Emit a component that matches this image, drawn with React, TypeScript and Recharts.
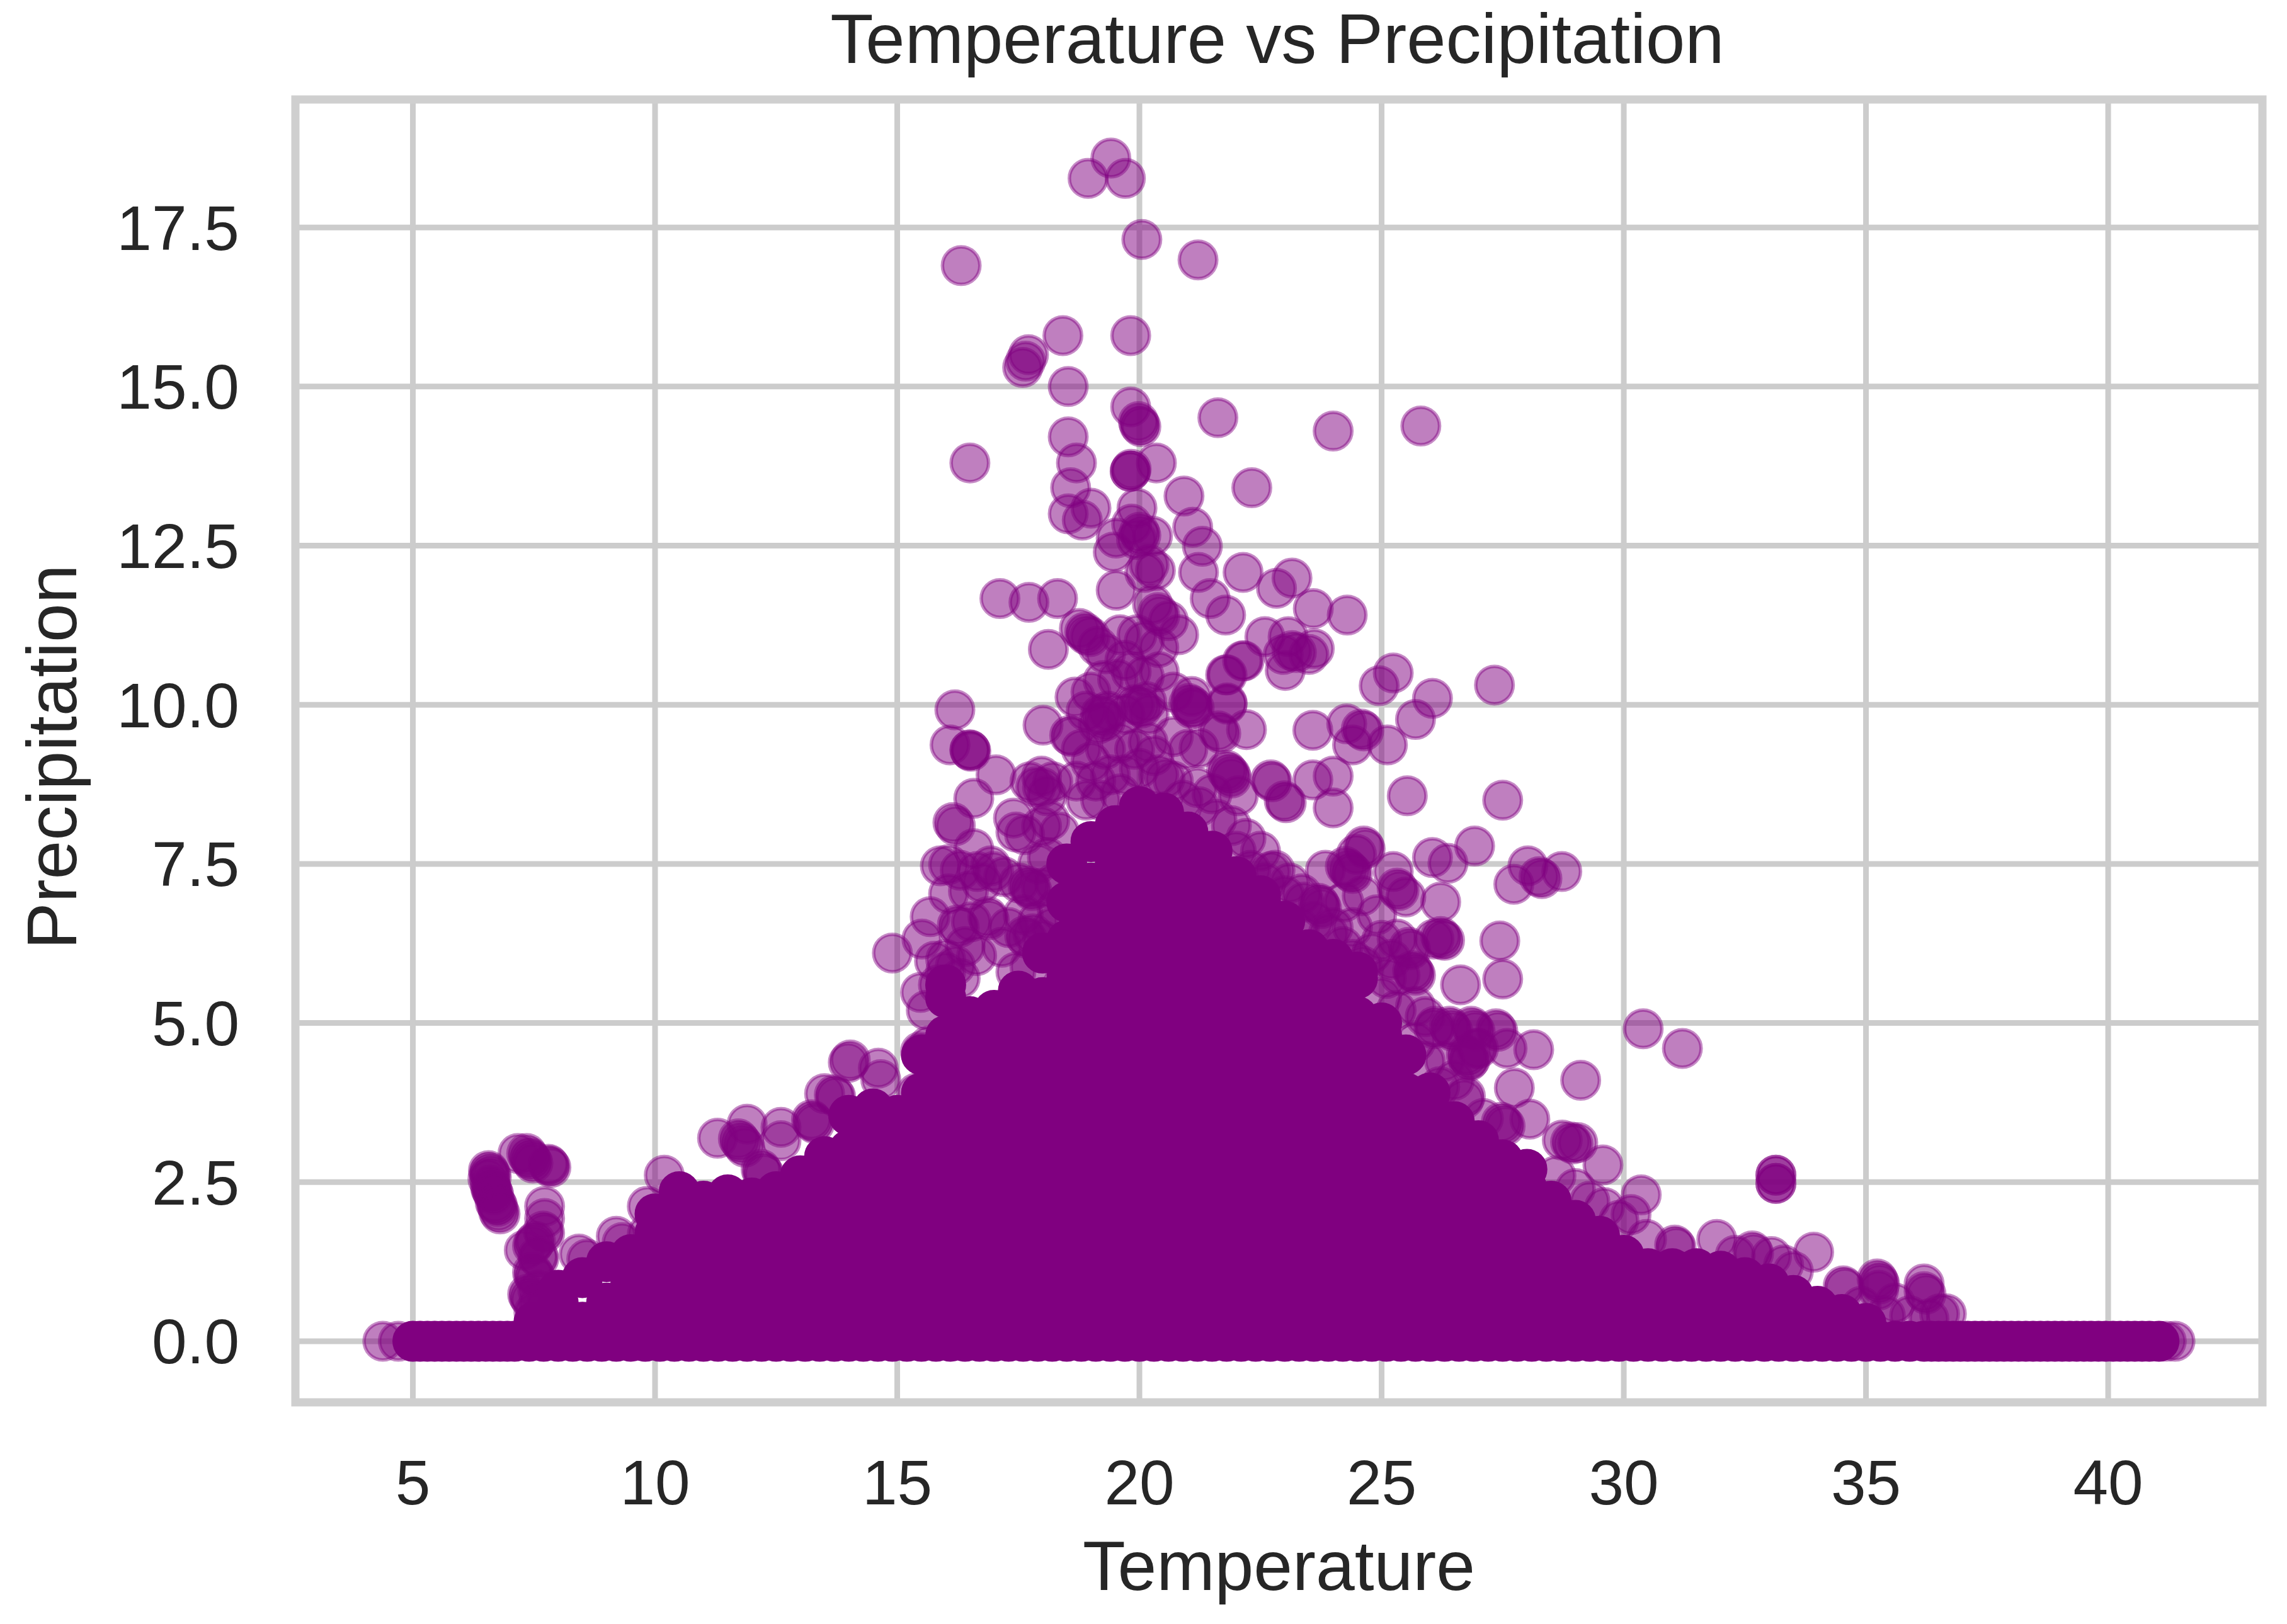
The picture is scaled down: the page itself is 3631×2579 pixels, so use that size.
import { CartesianGrid, ReferenceArea, Scatter, ScatterChart, XAxis, YAxis, ZAxis } from "recharts";

const xTicks = [5, 10, 15, 20, 25, 30, 35, 40];
const yTicks = [0, 2.5, 5, 7.5, 10, 12.5, 15, 17.5];
const xDomain = [2.575, 43.185];
const yDomain = [-0.96, 19.51];

// [temperature, precipitation], repeats are the darker overlaps
const peakPoints = [
  [19.41, 18.59], [18.94, 18.27], [19.71, 18.27], [20.05, 17.31], [21.21, 16.99], [16.32, 16.9],
  [18.42, 15.8], [19.82, 15.8], [17.71, 15.5], [17.59, 15.3], [17.65, 15.4], [18.53, 15.0],
  [19.82, 14.68], [19.98, 14.45], [20.03, 14.37], [20.0, 14.4], [21.62, 14.51], [24.0, 14.3], [25.81, 14.38],
  [18.53, 14.21], [16.5, 13.8], [18.7, 13.8], [19.81, 13.67], [19.81, 13.67], [19.83, 13.7], [20.35, 13.8],
  [18.58, 13.41], [20.92, 13.28], [22.32, 13.41], [18.53, 13.0], [19.0, 13.09], [18.82, 12.9], [19.95, 13.09],
  [21.1, 12.79], [21.3, 12.49], [20.0, 12.71], [20.03, 12.66], [19.52, 12.62], [20.27, 12.65], [19.84, 12.84],
  [19.94, 12.6], [19.46, 12.4], [20.33, 12.11], [20.11, 12.08], [20.2, 12.2], [21.22, 12.08], [22.14, 12.08],
  [23.15, 11.99], [22.83, 11.83], [23.59, 11.51], [24.29, 11.41], [21.46, 11.67], [21.78, 11.41], [19.52, 11.8],
  [17.12, 11.67], [17.72, 11.61], [18.31, 11.67], [20.38, 11.45], [20.42, 11.4], [20.6, 11.32], [20.27, 11.58],
];

const shoulderPoints = [
  [20.81, 11.1], [19.95, 11.1], [18.12, 10.87], [18.87, 11.14], [18.98, 11.07], [18.76, 11.2], [18.9, 11.1],
  [19.14, 10.92], [22.59, 11.07], [23.07, 11.07], [23.01, 10.54], [22.97, 10.79], [23.61, 10.88], [23.5, 10.79],
  [23.24, 10.82], [23.15, 10.85], [22.16, 10.69], [21.78, 10.47], [25.24, 10.5], [24.95, 10.3], [27.33, 10.31],
  [26.05, 10.1], [25.7, 9.77], [21.81, 10.03], [21.08, 10.13], [21.08, 9.94], [16.19, 9.92], [16.09, 9.37],
  [16.5, 9.29], [16.5, 9.29], [16.52, 9.27], [17.04, 8.9], [16.58, 8.53], [18.01, 9.68], [18.56, 9.52], [18.6, 9.5],
  [18.67, 10.12], [19.25, 10.38], [19.83, 10.52], [20.41, 10.52], [19.55, 10.4], [20.1, 10.45], [19.0, 10.2],
  [19.25, 9.81], [19.3, 9.75], [19.2, 9.85], [19.35, 9.9], [19.15, 9.7], [20.0, 9.99], [20.05, 9.95], [19.9, 10.0],
  [20.15, 10.05], [20.2, 9.85], [19.7, 9.85], [20.18, 9.41], [20.7, 9.5], [21.08, 9.99], [21.13, 9.95], [21.02, 10.02],
  [21.81, 10.01], [21.81, 10.47], [22.13, 10.69], [22.21, 9.61], [21.63, 9.59], [21.68, 9.55], [21.23, 9.32],
  [21.0, 9.3], [21.84, 8.93], [21.88, 8.9], [21.8, 8.97], [21.9, 8.85], [22.74, 8.79], [22.04, 8.57], [22.99, 8.49],
  [20.53, 8.84], [21.23, 8.4], [23.58, 9.6], [24.28, 9.7], [24.63, 9.59], [24.4, 9.37], [24.58, 9.62], [25.12, 9.37],
  [22.71, 8.82], [23.03, 8.46], [23.58, 8.82], [24.0, 8.88], [24.0, 8.38], [25.53, 8.57], [27.5, 8.5],
];

// the crowded patch under the peak, darker than the loose points around it
const underPeakPoints = [
  [18.8, 9.3], [19.0, 9.1], [19.3, 9.3], [19.6, 9.4], [19.9, 9.3], [20.3, 9.2], [19.1, 8.8], [19.4, 8.9], [19.7, 8.9],
  [20.0, 9.0], [20.4, 8.9], [20.7, 8.8], [18.7, 8.8], [18.9, 8.5], [19.2, 8.5], [19.6, 8.6], [20.9, 8.5], [21.2, 8.7],
  [21.5, 8.6], [21.6, 8.2], [21.9, 8.1], [22.2, 7.9], [22.5, 7.7], [22.8, 7.4], [23.1, 7.2], [22.3, 7.4], [22.0, 7.7],
  [23.4, 6.9], [23.6, 6.6], [23.3, 6.5], [24.0, 6.5], [24.2, 6.2], [24.4, 6.0], [19.6, 11.1], [20.1, 11.0], [20.4, 10.9],
  [19.3, 10.8], [19.7, 10.7], [20.7, 10.2], [18.9, 9.9], [16.0, 6.0], [16.2, 5.9], [16.0, 5.8], [16.3, 5.7], [15.85, 5.6],
];

const leftMidPoints = [
  [16.15, 8.15], [16.2, 8.1], [17.74, 8.79], [18.21, 8.79], [17.98, 8.88], [17.86, 8.71], [18.09, 8.57], [18.0, 8.7],
  [17.45, 8.0], [17.63, 7.96], [17.98, 8.09], [17.4, 8.22], [18.15, 8.18], [16.58, 7.74], [15.89, 7.47], [16.06, 7.49],
  [16.93, 7.47], [16.99, 7.38], [16.65, 7.38], [16.06, 7.03], [16.47, 7.07], [17.74, 7.12], [17.78, 7.08], [17.7, 7.15],
  [17.51, 7.2], [17.98, 7.12], [16.3, 7.4], [16.75, 7.2], [17.2, 7.3], [15.68, 6.67], [16.24, 6.54], [16.28, 6.5],
  [16.87, 6.67], [16.9, 6.62], [16.53, 6.59], [17.63, 6.37], [17.68, 6.33], [17.8, 6.4], [15.51, 6.32], [14.9, 6.1],
  [15.77, 5.97], [16.64, 6.06], [17.16, 6.19], [17.74, 5.88], [17.3, 6.5], [17.9, 6.6], [16.4, 6.2], [17.45, 5.8],
  [15.48, 5.48], [15.6, 5.2], [15.48, 4.55], [15.52, 4.5], [15.65, 4.64], [14.03, 4.42], [14.61, 4.29], [15.4, 3.9],
  [18.1, 7.6], [18.25, 7.2], [18.35, 8.0], [17.9, 7.5], [18.3, 6.8], [17.6, 6.7], [18.0, 6.3], [18.2, 6.5],
];

const rightMidPoints = [
  [24.63, 7.78], [24.66, 7.74], [24.48, 7.65], [23.84, 7.4], [24.31, 7.42], [24.36, 7.38], [24.25, 7.46], [24.4, 7.35],
  [25.24, 7.38], [25.32, 7.12], [25.36, 7.08], [25.5, 6.98], [26.05, 7.6], [26.37, 7.51], [26.92, 7.78], [28.02, 7.47],
  [27.73, 7.18], [28.31, 7.27], [28.72, 7.38], [28.25, 7.3], [26.22, 6.9], [23.73, 6.85], [23.76, 6.8], [23.7, 6.88],
  [23.35, 7.03], [24.22, 6.9], [22.71, 7.38], [22.6, 7.2], [23.0, 7.0], [24.6, 7.0], [24.9, 6.7], [24.4, 6.5], [23.9, 6.4],
  [27.44, 6.29], [27.5, 5.69], [26.63, 5.6], [26.25, 6.32], [26.3, 6.3], [26.22, 6.36], [26.08, 6.32], [25.32, 6.32],
  [25.56, 6.19], [25.6, 6.15], [25.2, 6.0], [25.67, 5.79], [25.7, 5.75], [25.64, 5.82], [25.38, 5.75], [25.7, 5.26],
  [25.1, 5.7], [25.0, 6.3], [24.8, 6.1], [24.6, 5.9], [25.3, 5.2], [25.0, 5.4], [25.9, 5.1], [26.1, 4.95],
  [27.36, 4.91], [27.4, 4.87], [26.89, 4.91], [26.93, 4.87], [26.85, 4.95], [26.43, 4.91], [26.47, 4.87], [26.4, 4.95],
  [26.08, 4.91], [28.14, 4.58], [27.59, 4.6], [27.0, 4.6], [26.79, 4.47], [26.83, 4.43], [26.75, 4.5], [26.8, 4.4],
  [26.96, 4.6], [30.4, 4.91], [31.21, 4.6], [25.7, 4.7], [26.3, 4.4], [25.9, 4.4], [26.5, 4.1], [26.2, 4.0], [26.7, 3.8],
  [29.11, 4.1], [27.74, 3.98], [28.06, 3.49], [27.51, 3.41], [27.55, 3.38], [27.47, 3.44], [26.73, 3.85], [27.1, 3.5],
  [28.73, 3.16], [29.05, 3.12], [28.9, 3.13], [28.95, 3.1], [29.57, 2.77], [30.36, 2.3], [30.15, 1.99], [29.0, 2.4],
  [29.3, 2.2], [29.6, 2.1], [29.9, 1.9], [28.6, 2.6], [33.14, 2.61], [33.14, 2.61], [33.14, 2.48], [33.14, 2.48],
];

const tailPoints = [
  [30.47, 1.6], [31.05, 1.51], [31.08, 1.48], [31.92, 1.6], [32.65, 1.42], [32.68, 1.38], [33.05, 1.33], [32.3, 1.35],
  [33.92, 1.4], [33.3, 1.2], [33.5, 1.1], [34.53, 0.87], [34.56, 0.84], [35.23, 0.98], [35.26, 0.94], [35.28, 0.9],
  [35.26, 0.8], [36.2, 0.9], [36.2, 0.78], [36.24, 0.74], [36.52, 0.43], [36.66, 0.43], [35.6, 0.6], [35.9, 0.4],
  [36.3, 0.35], [34.9, 0.55], [35.4, 0.4], [4.38, 0], [4.7, 0], [41.2, 0], [41.38, 0],
];

const leftTailPoints = [
  [13.99, 4.38], [14.66, 4.11], [13.7, 3.87], [13.73, 3.84], [13.5, 3.89], [13.26, 3.45], [13.29, 3.42], [13.23, 3.48],
  [12.6, 3.36], [12.6, 3.15], [11.9, 3.41], [11.29, 3.19], [11.76, 3.14], [11.8, 3.1], [11.72, 3.18], [11.85, 3.05],
  [12.22, 2.66], [12.25, 2.63], [12.19, 2.7], [10.19, 2.61], [9.84, 2.12], [9.84, 1.68], [9.32, 1.55], [8.59, 1.29],
  [7.72, 2.12], [7.72, 1.93], [7.69, 1.73], [7.72, 1.7], [7.5, 1.54], [7.47, 1.5], [7.53, 1.57], [7.3, 1.43],
  [7.58, 1.33], [7.6, 1.3], [8.43, 1.37], [9.2, 1.65], [7.5, 1.04], [7.53, 1.0], [7.47, 1.08], [7.4, 0.7], [7.43, 0.66],
  [7.37, 0.74], [7.58, 0.8], [7.6, 0.6], [7.5, 0.45], [7.55, 0.3], [7.75, 0.55],
  [6.58, 2.65], [6.6, 2.62], [6.56, 2.68], [6.62, 2.58], [6.55, 2.55], [6.63, 2.37], [6.65, 2.34], [6.61, 2.4], [6.67, 2.3],
  [6.6, 2.45], [6.73, 2.15], [6.75, 2.12], [6.7, 2.18], [6.77, 2.04], [6.8, 2.0],
  [7.17, 2.95], [7.42, 2.87], [7.45, 2.84], [7.39, 2.9], [7.35, 2.95], [7.48, 2.8], [7.82, 2.76], [7.85, 2.73], [7.8, 2.78],
];

// y = 0 strip, saturated in the picture
const zeroTemps = [
  5.0, 5.15, 5.3, 5.45, 5.6, 5.75, 5.9, 6.05, 6.2, 6.35, 6.5, 6.65, 6.8, 6.95, 7.1, 7.4, 7.7, 8.0, 8.3, 8.6, 8.9, 9.2, 9.5, 9.8,
  10.1, 10.4, 10.7, 11.0, 11.3, 11.6, 11.9, 12.2, 12.5, 12.8, 13.1, 13.4, 13.7, 14.0, 14.3, 14.6, 14.9, 15.2, 15.5, 15.8, 16.1,
  16.4, 16.7, 17.0, 17.3, 17.6, 17.9, 18.2, 18.5, 18.8, 19.1, 19.4, 19.7, 20.0, 20.3, 20.6, 20.9, 21.2, 21.5, 21.8, 22.1, 22.4,
  22.7, 23.0, 23.3, 23.6, 23.9, 24.2, 24.5, 24.8, 25.1, 25.4, 25.7, 26.0, 26.3, 26.6, 26.9, 27.2, 27.5, 27.8, 28.1, 28.4, 28.7,
  29.0, 29.3, 29.6, 29.9, 30.2, 30.5, 30.8, 31.1, 31.4, 31.7, 32.0, 32.3, 32.6, 32.9, 33.2, 33.5, 33.8, 34.1, 34.4, 34.7, 35.0,
  35.3, 35.6, 35.9, 36.2, 36.35, 36.5, 36.65, 36.8, 36.95, 37.1, 37.25, 37.4, 37.55, 37.7, 37.85, 38.0, 38.15, 38.3, 38.45, 38.6,
  38.75, 38.9, 39.05, 39.2, 39.35, 39.5, 39.65, 39.8, 39.95, 40.1, 40.25, 40.4, 40.55, 40.7, 40.85, 41.05,
];

// The middle of the cloud is solid colour, single points cannot be told apart there.
// These columns are estimates that follow its upper outline.
const coreColumns: [number, number[]][] = [
  [7.5, [0.3]],
  [8, [0.6, 0.8]],
  [8.5, [0.3, 1]],
  [9, [0.6, 1.25]],
  [9.5, [0.3, 0.9, 1.36]],
  [10, [0.6, 1.2, 1.7, 2]],
  [10.5, [0.3, 0.9, 1.5, 2.1, 2.35]],
  [11, [0.6, 1.2, 1.8, 2.2]],
  [11.5, [0.3, 0.9, 1.5, 2.1, 2.3]],
  [12, [0.6, 1.2, 1.8, 2.25]],
  [12.5, [0.3, 0.9, 1.5, 2.1, 2.35]],
  [13, [0.6, 1.2, 1.8, 2.4, 2.6]],
  [13.5, [0.3, 0.9, 1.5, 2.1, 2.7, 2.9]],
  [14, [0.6, 1.2, 1.8, 2.4, 3, 3.55]],
  [14.5, [0.3, 0.9, 1.5, 2.1, 2.7, 3.3, 3.65]],
  [15, [0.6, 1.2, 1.8, 2.4, 3, 3.55]],
  [15.5, [0.3, 0.9, 1.5, 2.1, 2.7, 3.3, 3.9, 4.5]],
  [16, [0.6, 1.2, 1.8, 2.4, 3, 3.6, 4.2, 4.8, 5.4, 5.6]],
  [16.5, [0.3, 0.9, 1.5, 2.1, 2.7, 3.3, 3.9, 4.5, 5.1]],
  [17, [0.6, 1.2, 1.8, 2.4, 3, 3.6, 4.2, 4.8, 5.2]],
  [17.5, [0.3, 0.9, 1.5, 2.1, 2.7, 3.3, 3.9, 4.5, 5.1, 5.5]],
  [18, [0.6, 1.2, 1.8, 2.4, 3, 3.6, 4.2, 4.8, 5.4, 6.1]],
  [18.5, [0.3, 0.9, 1.5, 2.1, 2.7, 3.3, 3.9, 4.5, 5.1, 5.7, 6.3, 6.9, 7.5]],
  [19, [0.6, 1.2, 1.8, 2.4, 3, 3.6, 4.2, 4.8, 5.4, 6, 6.6, 7.2, 7.85]],
  [19.5, [0.3, 0.9, 1.5, 2.1, 2.7, 3.3, 3.9, 4.5, 5.1, 5.7, 6.3, 6.9, 7.5, 8.1]],
  [20, [0.6, 1.2, 1.8, 2.4, 3, 3.6, 4.2, 4.8, 5.4, 6, 6.6, 7.2, 7.8, 8.4]],
  [20.5, [0.3, 0.9, 1.5, 2.1, 2.7, 3.3, 3.9, 4.5, 5.1, 5.7, 6.3, 6.9, 7.5, 8.1, 8.3]],
  [21, [0.6, 1.2, 1.8, 2.4, 3, 3.6, 4.2, 4.8, 5.4, 6, 6.6, 7.2, 7.8, 8]],
  [21.5, [0.3, 0.9, 1.5, 2.1, 2.7, 3.3, 3.9, 4.5, 5.1, 5.7, 6.3, 6.9, 7.5, 7.7]],
  [22, [0.6, 1.2, 1.8, 2.4, 3, 3.6, 4.2, 4.8, 5.4, 6, 6.6, 7.2, 7.3]],
  [22.5, [0.3, 0.9, 1.5, 2.1, 2.7, 3.3, 3.9, 4.5, 5.1, 5.7, 6.3, 6.9, 7]],
  [23, [0.6, 1.2, 1.8, 2.4, 3, 3.6, 4.2, 4.8, 5.4, 6, 6.6]],
  [23.5, [0.3, 0.9, 1.5, 2.1, 2.7, 3.3, 3.9, 4.5, 5.1, 5.7, 6.15]],
  [24, [0.6, 1.2, 1.8, 2.4, 3, 3.6, 4.2, 4.8, 5.4, 6]],
  [24.5, [0.3, 0.9, 1.5, 2.1, 2.7, 3.3, 3.9, 4.5, 5.1, 5.7, 5.8]],
  [25, [0.6, 1.2, 1.8, 2.4, 3, 3.6, 4.2, 4.8, 5]],
  [25.5, [0.3, 0.9, 1.5, 2.1, 2.7, 3.3, 3.9, 4.5]],
  [26, [0.6, 1.2, 1.8, 2.4, 3, 3.6, 3.9]],
  [26.5, [0.3, 0.9, 1.5, 2.1, 2.7, 3.3, 3.45]],
  [27, [0.6, 1.2, 1.8, 2.4, 3, 3.15]],
  [27.5, [0.3, 0.9, 1.5, 2.1, 2.7, 2.85]],
  [28, [0.6, 1.2, 1.8, 2.4, 2.7]],
  [28.5, [0.3, 0.9, 1.5, 2.1, 2.2]],
  [29, [0.6, 1.2, 1.8, 1.9]],
  [29.5, [0.3, 0.9, 1.5, 1.65]],
  [30, [0.6, 1.2, 1.35]],
  [30.5, [0.3, 0.9, 1.14]],
  [31, [0.6, 1.14]],
  [31.5, [0.3, 0.9, 1.14]],
  [32, [0.6, 1.1]],
  [32.5, [0.3, 0.9, 1]],
  [33, [0.6, 0.9]],
  [33.5, [0.3, 0.72]],
  [34, [0.55]],
  [34.5, [0.42]],
  [35, [0.28]],
];

const toRow = ([temp, precip]: number[]) => ({ temp, precip });

const looseData = [
  ...peakPoints,
  ...shoulderPoints,
  ...underPeakPoints,
  ...leftMidPoints,
  ...rightMidPoints,
  ...tailPoints,
  ...leftTailPoints,
].map(toRow);
const coreData = [
  ...zeroTemps.map((temp) => ({ temp, precip: 0 })),
  ...coreColumns.flatMap(([temp, list]) => list.map((precip) => ({ temp, precip }))),
];

const FONT = '"Liberation Sans", Arial, sans-serif';
const INK = "#262626";
const PURPLE = "#800080";

export default function App() {
  return (
    <div style={{ position: "absolute", left: 0, top: 0, width: 3631, height: 2579, background: "#fff" }}>
      <ScatterChart width={3631} height={2579} margin={{ top: 158, right: 39, bottom: 0, left: 0 }} style={{ fontFamily: FONT }}>
        <CartesianGrid stroke="#cccccc" strokeWidth={9} />
        <XAxis
          type="number"
          dataKey="temp"
          domain={xDomain}
          ticks={xTicks}
          allowDataOverflow
          height={352}
          axisLine={false}
          tickLine={false}
          tickMargin={85}
          tick={{ fill: INK, fontSize: 100 }}
          label={{ value: "Temperature", position: "insideBottom", offset: 54, fill: INK, fontSize: 111 }}
        />
        <YAxis
          type="number"
          dataKey="precip"
          domain={yDomain}
          ticks={yTicks}
          allowDataOverflow
          width={469}
          axisLine={false}
          tickLine={false}
          tickMargin={83}
          tickFormatter={(v: number) => v.toFixed(1)}
          tick={{ fill: INK, fontSize: 100 }}
        />
        <ZAxis type="number" dataKey="temp" range={[2780, 2780]} />
        <ReferenceArea x1={xDomain[0]} x2={xDomain[1]} y1={yDomain[0]} y2={yDomain[1]} fill="none" stroke="#cfcfcf" strokeWidth={13} ifOverflow="visible" />
        <Scatter data={looseData} fill={PURPLE} fillOpacity={0.5} stroke={PURPLE} strokeOpacity={0.45} strokeWidth={5.5} isAnimationActive={false} />
        <Scatter data={coreData} fill={PURPLE} stroke={PURPLE} strokeWidth={5.5} isAnimationActive={false} />
        <text x={2028} y={100} textAnchor="middle" fill={INK} fontSize={112} fontFamily={FONT}>
          Temperature vs Precipitation
        </text>
        <text x={121} y={1202} textAnchor="middle" fill={INK} fontSize={111} fontFamily={FONT} transform="rotate(-90 121 1202)">
          Precipitation
        </text>
      </ScatterChart>
    </div>
  );
}
